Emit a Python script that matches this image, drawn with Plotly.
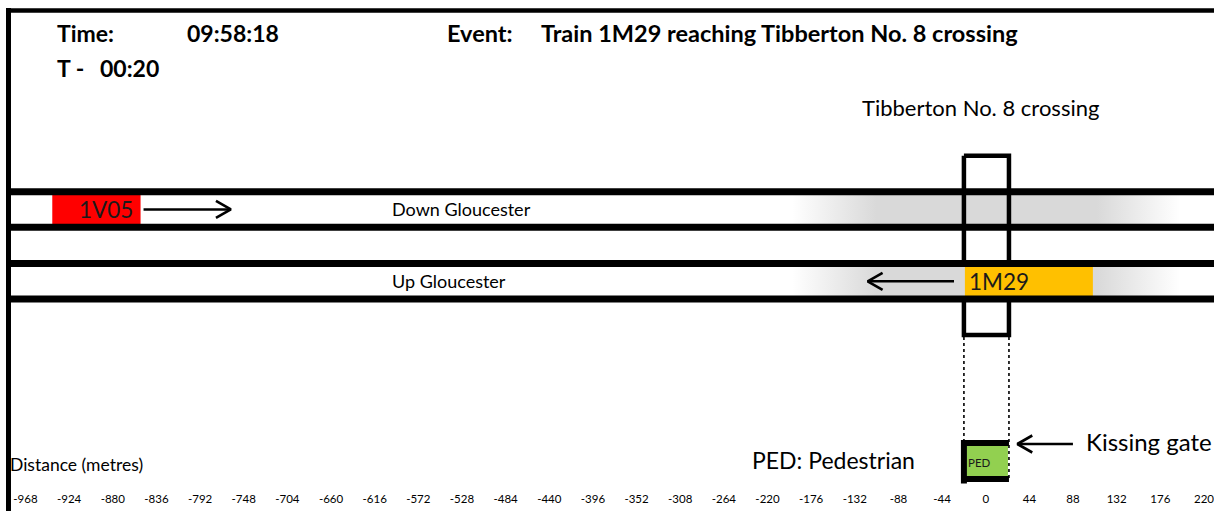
import plotly.graph_objects as go

# ---------------- data ----------------
tick_values = [-968, -924, -880, -836, -792, -748, -704, -660, -616, -572, -528,
               -484, -440, -396, -352, -308, -264, -220, -176, -132, -88, -44,
               0, 44, 88, 132, 176, 220]
tick_labels = [str(v) for v in tick_values]

track_names = ["Down Gloucester", "Up Gloucester"]
train_ids = ["1V05", "1M29"]
train_track = ["Down Gloucester", "Up Gloucester"]
train_tail = [-941, 108]      # metres
train_head = [-852, -21]      # metres
train_colors = ["#FF0000", "#FFC000"]
arrow_len = [88, 87]          # metres

crossing_name = "Tibberton No. 8 crossing"
crossing_x = [-22.0, 23.4]    # metres (crossing box edges)
band_x = [-195, -110, 112, 196]   # gradient band stops (metres)

header_time = "09:58:18"
header_countdown = "00:20"
header_event = "Train 1M29 reaching Tibberton No. 8 crossing"

# ---------------- geometry / style ----------------
W, H = 1214, 511
PLOT_H = 487
X_RANGE = [-993.7, 230.1]
MPP = (X_RANGE[1] - X_RANGE[0]) / W
FONT = "Lato"

rail_y = [191.7, 227.2, 263.6, 299.0]
track_rows = {"Down Gloucester": (rail_y[0], rail_y[1]),
              "Up Gloucester": (rail_y[2], rail_y[3])}
box_top, box_bot = 155.7, 335.0
ped_top, ped_bot = 443.0, 479.0


def px2paper(px):
    return px / W


def py2paper(py):
    return (PLOT_H - py) / PLOT_H


fig = go.Figure()

span = band_x[3] - band_x[0]
band_cs = [[0, "#FFFFFF"], [(band_x[1] - band_x[0]) / span, "#D9D9D9"],
           [(band_x[2] - band_x[0]) / span, "#D9D9D9"], [1, "#FFFFFF"]]


def add_band(name):
    y0, y1 = track_rows[name]
    fig.add_trace(go.Scatter(
        x=[band_x[0], band_x[3], band_x[3], band_x[0], band_x[0]],
        y=[y0, y0, y1, y1, y0], mode="none", fill="toself",
        fillgradient=dict(type="horizontal", colorscale=band_cs),
        hoverinfo="skip", showlegend=False))


add_band("Down Gloucester")
# crossing box outline
fig.add_trace(go.Scatter(
    x=[crossing_x[0], crossing_x[1], crossing_x[1], crossing_x[0], crossing_x[0]],
    y=[box_top, box_top, box_bot, box_bot, box_top], mode="lines",
    line=dict(color="black", width=4.5), hoverinfo="skip", showlegend=False))
add_band("Up Gloucester")

# train arrows
for i, tid in enumerate(train_ids):
    y0, y1 = track_rows[train_track[i]]
    yc = (y0 + y1) / 2
    d = 1 if train_head[i] > train_tail[i] else -1
    start = train_head[i] + d * (3 if d > 0 else 11)
    tip = start + d * arrow_len[i]
    fig.add_trace(go.Scatter(
        x=[start, tip, None, tip - d * 15, tip, tip - d * 15],
        y=[yc, yc, None, yc - 8.5, yc, yc + 8.5], mode="lines",
        line=dict(color="black", width=2.6), hoverinfo="skip", showlegend=False))

# kissing gate arrow
kg_tip = crossing_x[1] + 8.5
kg_tail = kg_tip + 56
kg_y = 444
fig.add_trace(go.Scatter(
    x=[kg_tail, kg_tip, None, kg_tip + 15, kg_tip, kg_tip + 15],
    y=[kg_y, kg_y, None, kg_y - 8.5, kg_y, kg_y + 8.5], mode="lines",
    line=dict(color="black", width=2.6), hoverinfo="skip", showlegend=False))

shapes = []
# trains
for i, tid in enumerate(train_ids):
    y0, y1 = track_rows[train_track[i]]
    shapes.append(dict(type="rect", xref="x", yref="y",
                       x0=min(train_tail[i], train_head[i]), x1=max(train_tail[i], train_head[i]),
                       y0=y0, y1=y1, fillcolor=train_colors[i], line=dict(width=0)))
# rails
for ry in rail_y:
    shapes.append(dict(type="line", xref="paper", yref="y", x0=px2paper(9), x1=1,
                       y0=ry, y1=ry, line=dict(color="black", width=7)))
# dotted lines below crossing box
for cx in crossing_x:
    shapes.append(dict(type="line", xref="x", yref="y", x0=cx, x1=cx,
                       y0=box_bot + 2, y1=ped_bot + 2,
                       line=dict(color="black", width=1.6, dash="dot")))
# PED box
shapes.append(dict(type="rect", xref="x", yref="y", x0=crossing_x[0] + 2.5, x1=crossing_x[1] - 1,
                   y0=ped_top + 3, y1=ped_bot - 3, fillcolor="#92D050", line=dict(width=0)))
shapes.append(dict(type="path", xref="x", yref="y",
                   path=(f"M {crossing_x[1]},{ped_top} L {crossing_x[0] - 0.5},{ped_top} "
                         f"M {crossing_x[0]},{ped_top - 3} L {crossing_x[0]},{ped_bot + 4.5} "
                         f"M {crossing_x[0] - 0.5},{ped_bot} L {crossing_x[1]},{ped_bot}"),
                   line=dict(color="black", width=6)))
# frame
shapes.append(dict(type="line", xref="paper", yref="paper", x0=px2paper(6), x1=1,
                   y0=py2paper(10.5), y1=py2paper(10.5), line=dict(color="black", width=4.5)))
shapes.append(dict(type="line", xref="paper", yref="paper", x0=px2paper(8.5), x1=px2paper(8.5),
                   y0=py2paper(8), y1=py2paper(H + 2), line=dict(color="black", width=5)))

ann = []


def text(s, px, py, size, bold=False, anchor="left", color="black"):
    ann.append(dict(text=f"<b>{s}</b>" if bold else s, xref="paper", yref="paper",
                    x=px2paper(px), y=py2paper(py), xanchor=anchor, yanchor="middle",
                    showarrow=False, font=dict(family=FONT, size=size, color=color)))


text("Time:", 55, 33, 23, True)
text(header_time, 185, 33, 23, True)
text("Event:", 445, 33, 23.5, True)
text(header_event, 539, 33, 23.5, True)
text("T -", 55, 68, 23, True)
text(header_countdown, 98, 68, 23, True)
text(crossing_name, 860, 108, 22)
for name in track_names:
    y0, y1 = track_rows[name]
    text(name, 390, (y0 + y1) / 2, 18)
# train labels
for i, tid in enumerate(train_ids):
    y0, y1 = track_rows[train_track[i]]
    left = min(train_tail[i], train_head[i])
    right = max(train_tail[i], train_head[i])
    if train_head[i] > train_tail[i]:
        ann.append(dict(text=tid, xref="x", yref="y", x=right - 6, y=(y0 + y1) / 2,
                        xanchor="right", yanchor="middle", showarrow=False,
                        font=dict(family=FONT, size=22.5, color="#1a1a1a")))
    else:
        ann.append(dict(text=tid, xref="x", yref="y", x=left + 2, y=(y0 + y1) / 2,
                        xanchor="left", yanchor="middle", showarrow=False,
                        font=dict(family=FONT, size=22.5, color="#1a1a1a")))
ann.append(dict(text="PED", xref="x", yref="y", x=crossing_x[0] + 2.5, y=462,
                xanchor="left", yanchor="middle", showarrow=False,
                font=dict(family=FONT, size=11.5, color="#1a1a1a")))
text("Kissing gate", 1084, 441, 24)
text("PED: Pedestrian", 750, 460, 23)
text("Distance (metres)", 8, 464, 17.5)

fig.update_layout(
    width=W, height=H, margin=dict(l=0, r=0, t=0, b=H - PLOT_H, pad=0),
    paper_bgcolor="white", plot_bgcolor="white",
    xaxis=dict(range=X_RANGE, showgrid=False, zeroline=False, showline=False,
               ticks="", tickmode="array", tickvals=tick_values, ticktext=tick_labels,
               ticklabelstandoff=3, ticklabeloverflow="allow",
               tickfont=dict(family=FONT, size=11.5, color="black"), fixedrange=True),
    yaxis=dict(range=[PLOT_H, 0], visible=False, fixedrange=True),
    shapes=shapes, annotations=ann, showlegend=False,
)

fig.write_html("out.html", config={"displayModeBar": False},
               post_script="document.body.style.margin='0';")
